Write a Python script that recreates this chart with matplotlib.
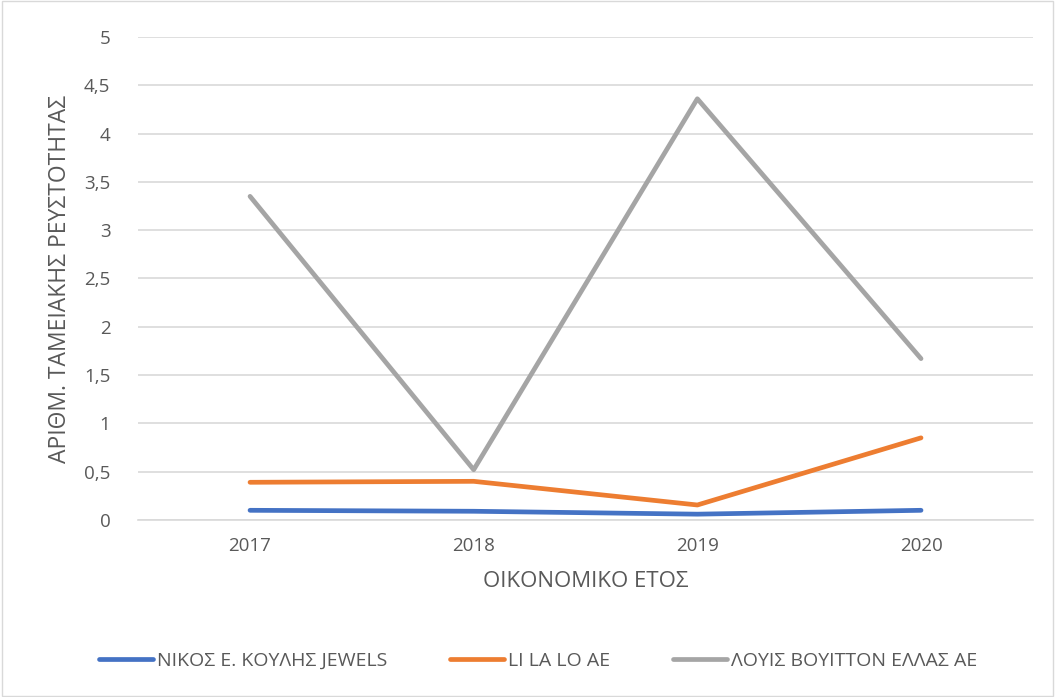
import matplotlib
matplotlib.use("Agg")
from matplotlib import pyplot as plt
from matplotlib.patches import Rectangle

years = ["2017", "2018", "2019", "2020"]
koulis = [0.10, 0.09, 0.06, 0.10]
lilalo = [0.39, 0.40, 0.155, 0.85]
vuitton = [3.35, 0.52, 4.36, 1.67]
y_ticks = [0, 0.5, 1, 1.5, 2, 2.5, 3, 3.5, 4, 4.5, 5]
y_tick_labels = ["0", "0,5", "1", "1,5", "2", "2,5", "3", "3,5", "4", "4,5", "5"]

plt.rcParams['font.family'] = ['Open Sans', 'DejaVu Sans']
text_color = "#595959"

fig = plt.figure(figsize=(10.55, 6.97), dpi=100)
ax = fig.add_axes([0.131, 0.254, 0.848, 0.693])

x = range(len(years))
ax.plot(x, koulis, color="#4472C4", lw=3.4, solid_capstyle="round", solid_joinstyle="round", label="ΝΙΚΟΣ Ε. ΚΟΥΛΗΣ JEWELS")
ax.plot(x, lilalo, color="#ED7D31", lw=3.4, solid_capstyle="round", solid_joinstyle="round", label="LI LA LO AE")
ax.plot(x, vuitton, color="#A5A5A5", lw=3.4, solid_capstyle="round", solid_joinstyle="round", label="ΛΟΥΙΣ ΒΟΥΙΤΤΟΝ ΕΛΛΑΣ ΑΕ")

ax.set_xlim(-0.5, 3.5)
ax.set_ylim(0, 5)
ax.set_xticks(list(x))
ax.set_xticklabels(years)
ax.set_yticks(y_ticks)
ax.set_yticklabels(y_tick_labels)
ax.tick_params(length=0, labelsize=13.5, colors=text_color)
ax.tick_params(axis="y", pad=20)
ax.tick_params(axis="x", pad=12)
ax.grid(axis="y", color="#d9d9d9", lw=1.2)
ax.set_axisbelow(True)
for s in ["top", "right", "left"]:
    ax.spines[s].set_visible(False)
ax.spines["bottom"].set_color("#d9d9d9")
ax.spines["bottom"].set_linewidth(1.2)

ax.set_xlabel("ΟΙΚΟΝΟΜΙΚΟ ΕΤΟΣ", fontsize=16, color=text_color, labelpad=12)
ax.set_ylabel("ΑΡΙΘΜ. ΤΑΜΕΙΑΚΗΣ ΡΕΥΣΤΟΤΗΤΑΣ", fontsize=16.5, color=text_color, labelpad=9)

leg = fig.legend(loc="center", bbox_to_anchor=(0.51, 0.052), ncol=3, frameon=False,
                 fontsize=14, handlelength=2.8, columnspacing=3.2, handletextpad=0.2)
for t in leg.get_texts():
    t.set_color(text_color)

fig.patches.append(Rectangle((0.002, 0.002), 0.996, 0.996, transform=fig.transFigure,
                             fill=False, edgecolor="#d9d9d9", lw=1))

plt.savefig("out.png", dpi=100)
